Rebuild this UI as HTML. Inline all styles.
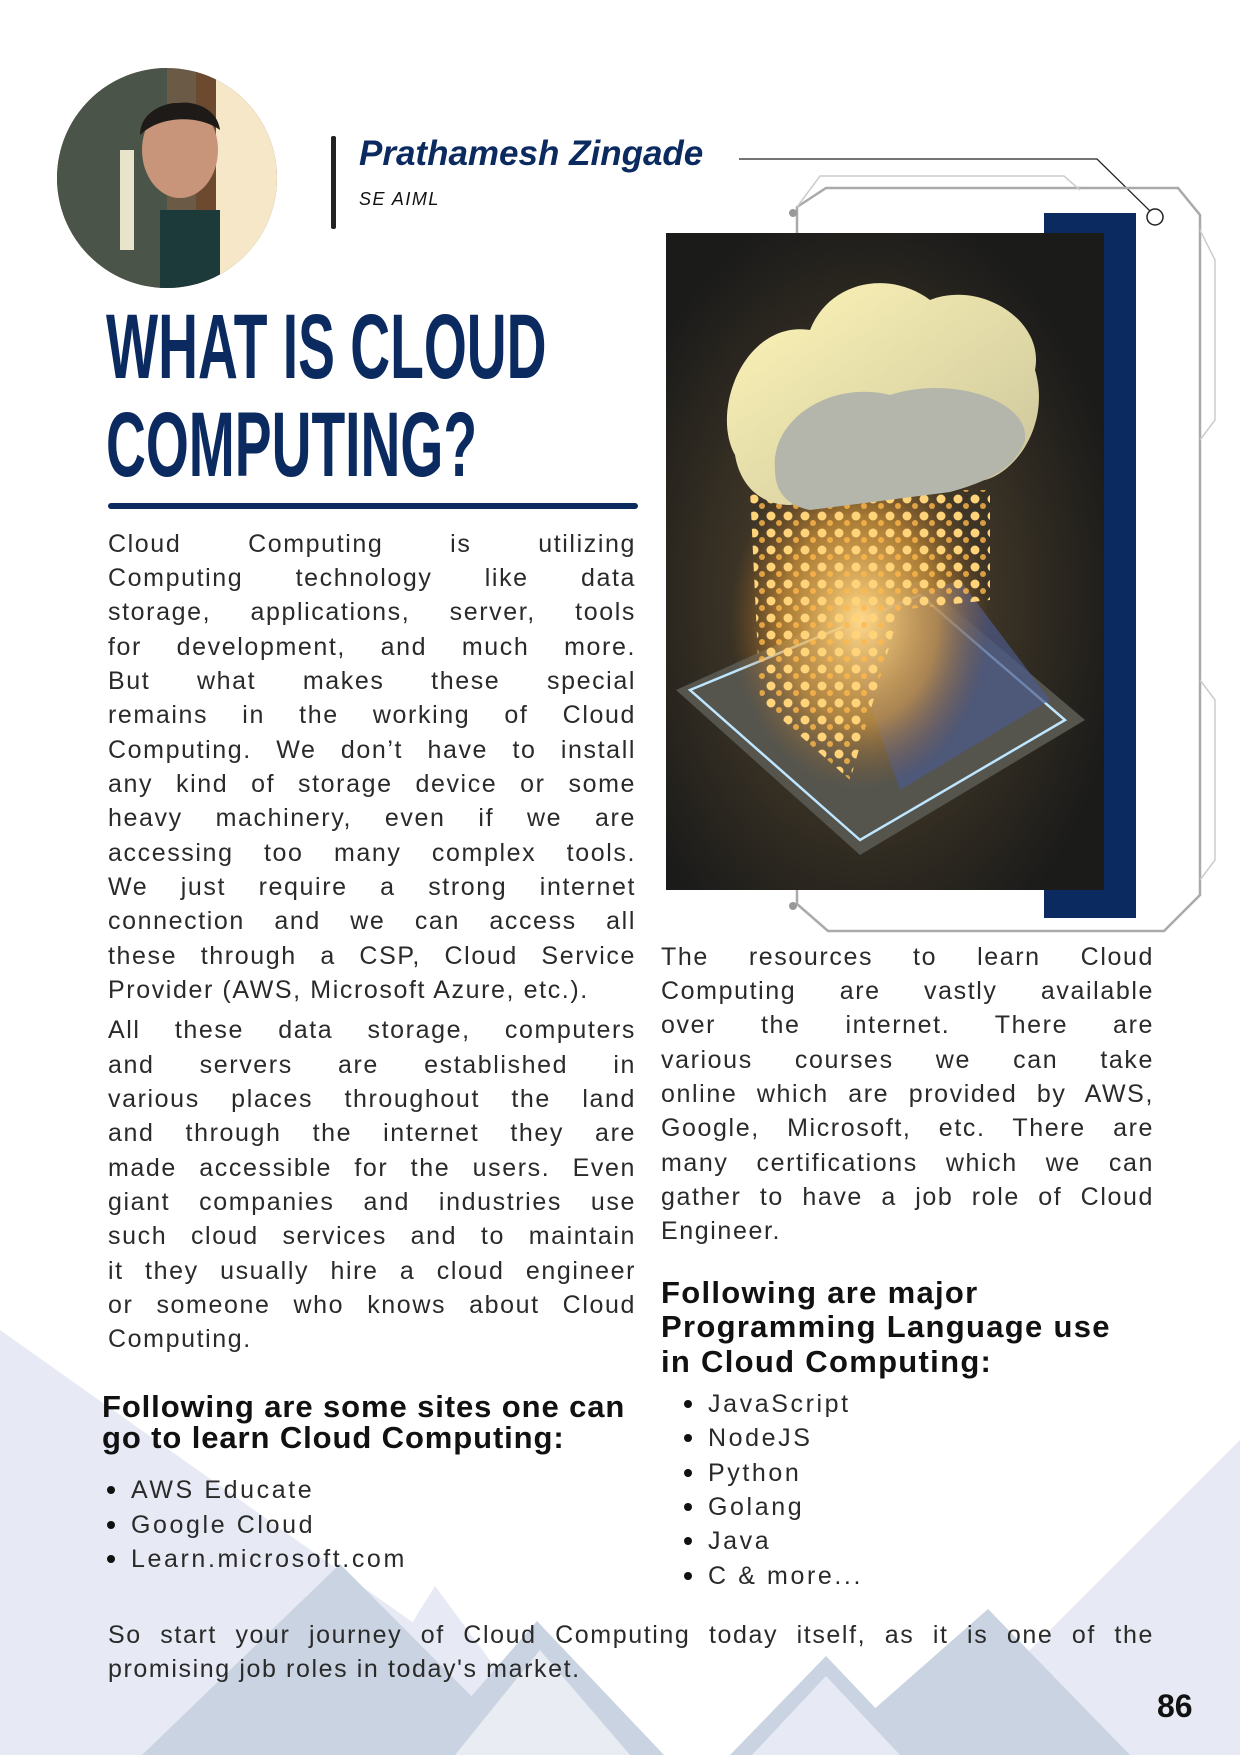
<!DOCTYPE html>
<html><head><meta charset="utf-8"><style>
*{margin:0;padding:0;box-sizing:border-box}
body{width:1240px;height:1755px;position:relative;overflow:hidden;background:#fff;font-family:"Liberation Sans",sans-serif}
.a{position:absolute;white-space:nowrap}
.l{position:absolute;font-size:25px;letter-spacing:1.6px;color:#2a2a2a;height:34px;line-height:34px;text-align:justify;text-align-last:justify;white-space:nowrap}
.l.n{text-align-last:left}
.h{position:absolute;font-size:31px;font-weight:bold;color:#111;letter-spacing:1.3px;white-space:nowrap;line-height:34px}
.b{position:absolute;font-size:25px;letter-spacing:2.6px;color:#2a2a2a;white-space:nowrap;line-height:34px}
.b:before{content:"";position:absolute;left:-24px;top:13px;width:8px;height:8px;border-radius:50%;background:#111}
</style></head><body>
<svg class="a" style="left:0;top:0" width="1240" height="1755">
 <polygon points="0,1330 600,1755 0,1755" fill="#e7eaf4"/>
 <polygon points="1240,1440 1240,1755 925,1755" fill="#e7eaf4"/>
 <polygon points="435,1586 560,1755 330,1755" fill="#e7eaf4"/>
 <polygon points="340,1564 530,1755 142,1755" fill="#c9d3e1"/>
 <polygon points="537,1621 664,1755 420,1755" fill="#c9d3e1"/>
 <polygon points="540,1650 630,1755 455,1755" fill="#ffffff" opacity=".6"/>
 <polygon points="988,1609 1130,1755 822,1755" fill="#c9d3e1"/>
 <polygon points="826,1656 920,1755 730,1755" fill="#c9d3e1"/>
 <polygon points="826,1676 900,1755 752,1755" fill="#e7eaf4"/>
 <polyline points="739,159 1097,159 1150,211" fill="none" stroke="#222" stroke-width="1.3"/>
 <circle cx="1155" cy="217" r="8" fill="#fff" stroke="#222" stroke-width="1.5"/>
 <polygon points="797,207 826,188 1178,188 1200,215 1200,895 1164,931 828,931 797,904" fill="none" stroke="#aaa" stroke-width="2.5"/>
 <polyline points="797,207 820,176 1064,176 1080,190" fill="none" stroke="#ccc" stroke-width="1.5"/>
 <polyline points="1200,230 1215,260 1215,420 1200,440" fill="none" stroke="#ccc" stroke-width="1.5"/>
 <polyline points="1200,680 1215,700 1215,860 1200,880" fill="none" stroke="#ccc" stroke-width="1.5"/>
 <circle cx="793" cy="213" r="4" fill="#999"/>
 <circle cx="793" cy="906" r="4" fill="#999"/>
 <rect x="1044" y="213" width="92" height="705" fill="#0b2b60"/>
 <defs>
  <radialGradient id="g1" cx="0.45" cy="0.55" r="0.6"><stop offset="0" stop-color="#5a4a30"/><stop offset="1" stop-color="#1b1b1a"/></radialGradient>
  <radialGradient id="g2" cx="0.5" cy="0.5" r="0.5"><stop offset="0" stop-color="#ffd98a"/><stop offset="0.6" stop-color="#e7a23a" stop-opacity=".6"/><stop offset="1" stop-color="#a06020" stop-opacity="0"/></radialGradient>
  <linearGradient id="g3" x1="0" y1="0" x2="1" y2="1"><stop offset="0" stop-color="#fff6b8"/><stop offset="1" stop-color="#c9c39a"/></linearGradient>
  <pattern id="dots" width="17" height="17" patternUnits="userSpaceOnUse"><circle cx="6" cy="6" r="4.5" fill="#ffd37a"/><circle cx="14" cy="13" r="3" fill="#ffb84a" opacity=".8"/></pattern>
  <clipPath id="cp"><circle cx="167" cy="178" r="110"/></clipPath>
 </defs>
 <rect x="666" y="233" width="438" height="657" fill="url(#g1)"/>
 <polygon points="676,690 920,580 1085,720 860,855" fill="#55554e"/>
 <polygon points="690,690 920,595 1065,720 860,840" fill="none" stroke="#bfe6ff" stroke-width="2.5"/>
 <polygon points="840,620 960,580 1050,700 900,790" fill="#4c5a8a" opacity=".7"/>
 <ellipse cx="860" cy="620" rx="130" ry="170" fill="url(#g2)"/>
 <polygon points="750,490 990,490 990,600 900,610 850,780 760,700" fill="url(#dots)"/>
 <path d="M735,455 C710,410 745,320 810,330 C830,280 890,270 930,300 C980,280 1045,320 1035,370 C1050,420 1020,470 985,480 L790,505 C760,505 740,485 735,455Z" fill="url(#g3)"/>
 <path d="M775,470 C770,420 830,380 890,395 C950,375 1030,400 1025,440 C1015,470 985,482 950,492 L810,510 C785,505 775,490 775,470Z" fill="#b5b6ab"/>
 <circle cx="167" cy="178" r="110" fill="#6b5a45"/>
 <g clip-path="url(#cp)">
  <rect x="57" y="68" width="110" height="220" fill="#4a5448"/>
  <rect x="215" y="68" width="70" height="220" fill="#f6e7c8"/>
  <rect x="196" y="68" width="20" height="220" fill="#6b4a30"/>
  <rect x="120" y="150" width="14" height="100" fill="#e8e4cc"/>
  <ellipse cx="180" cy="150" rx="38" ry="48" fill="#c8957a"/>
  <path d="M140,135 C140,95 215,90 220,130 C200,115 160,115 140,135Z" fill="#1e1a18"/>
  <rect x="160" y="210" width="60" height="80" fill="#1d3a3a"/>
 </g>
</svg>
<div class="a" style="left:331px;top:136px;width:5px;height:93px;background:#222;border-radius:2px"></div>
<div class="a" style="left:359px;top:134px;font-size:35px;font-weight:bold;font-style:italic;color:#0b2b60">Prathamesh Zingade</div>
<div class="a" style="left:359px;top:189px;font-size:18px;font-style:italic;color:#111;letter-spacing:1.5px">SE AIML</div>
<div class="a" style="left:106px;top:298px;font-weight:bold;font-size:92px;line-height:98px;color:#0b2b60;transform:scaleX(0.6);transform-origin:0 0">WHAT IS CLOUD<br>COMPUTING?</div>
<div class="a" style="left:108px;top:503px;width:530px;height:6px;background:#0b2b60;border-radius:3px"></div>

<div class="l" style="left:108px;top:527px;width:528px">Cloud Computing is utilizing</div>
<div class="l" style="left:108px;top:561px;width:528px">Computing technology like data</div>
<div class="l" style="left:108px;top:595px;width:528px">storage, applications, server, tools</div>
<div class="l" style="left:108px;top:630px;width:528px">for development, and much more.</div>
<div class="l" style="left:108px;top:664px;width:528px">But what makes these special</div>
<div class="l" style="left:108px;top:698px;width:528px">remains in the working of Cloud</div>
<div class="l" style="left:108px;top:733px;width:528px">Computing. We don’t have to install</div>
<div class="l" style="left:108px;top:767px;width:528px">any kind of storage device or some</div>
<div class="l" style="left:108px;top:801px;width:528px">heavy machinery, even if we are</div>
<div class="l" style="left:108px;top:836px;width:528px">accessing too many complex tools.</div>
<div class="l" style="left:108px;top:870px;width:528px">We just require a strong internet</div>
<div class="l" style="left:108px;top:904px;width:528px">connection and we can access all</div>
<div class="l" style="left:108px;top:939px;width:528px">these through a CSP, Cloud Service</div>
<div class="l n" style="left:108px;top:973px;width:528px">Provider (AWS, Microsoft Azure, etc.).</div>
<div class="l" style="left:108px;top:1013px;width:528px">All these data storage, computers</div>
<div class="l" style="left:108px;top:1048px;width:528px">and servers are established in</div>
<div class="l" style="left:108px;top:1082px;width:528px">various places throughout the land</div>
<div class="l" style="left:108px;top:1116px;width:528px">and through the internet they are</div>
<div class="l" style="left:108px;top:1151px;width:528px">made accessible for the users. Even</div>
<div class="l" style="left:108px;top:1185px;width:528px">giant companies and industries use</div>
<div class="l" style="left:108px;top:1219px;width:528px">such cloud services and to maintain</div>
<div class="l" style="left:108px;top:1254px;width:528px">it they usually hire a cloud engineer</div>
<div class="l" style="left:108px;top:1288px;width:528px">or someone who knows about Cloud</div>
<div class="l n" style="left:108px;top:1322px;width:528px">Computing.</div>

<div class="l" style="left:661px;top:940px;width:493px">The resources to learn Cloud</div>
<div class="l" style="left:661px;top:974px;width:493px">Computing are vastly available</div>
<div class="l" style="left:661px;top:1008px;width:493px">over the internet. There are</div>
<div class="l" style="left:661px;top:1043px;width:493px">various courses we can take</div>
<div class="l" style="left:661px;top:1077px;width:493px">online which are provided by AWS,</div>
<div class="l" style="left:661px;top:1111px;width:493px">Google, Microsoft, etc. There are</div>
<div class="l" style="left:661px;top:1146px;width:493px">many certifications which we can</div>
<div class="l" style="left:661px;top:1180px;width:493px">gather to have a job role of Cloud</div>
<div class="l n" style="left:661px;top:1214px;width:493px">Engineer.</div>

<div class="h" style="left:661px;top:1276px">Following are major</div>
<div class="h" style="left:661px;top:1310px">Programming Language use</div>
<div class="h" style="left:661px;top:1345px">in Cloud Computing:</div>

<div class="b" style="left:708px;top:1387px">JavaScript</div>
<div class="b" style="left:708px;top:1421px">NodeJS</div>
<div class="b" style="left:708px;top:1456px">Python</div>
<div class="b" style="left:708px;top:1490px">Golang</div>
<div class="b" style="left:708px;top:1524px">Java</div>
<div class="b" style="left:708px;top:1559px">C &amp; more...</div>

<div class="h" style="left:102px;top:1390px;letter-spacing:0.9px">Following are some sites one can</div>
<div class="h" style="left:102px;top:1421px;letter-spacing:0.9px">go to learn Cloud Computing:</div>

<div class="b" style="left:131px;top:1473px">AWS Educate</div>
<div class="b" style="left:131px;top:1508px">Google Cloud</div>
<div class="b" style="left:131px;top:1542px">Learn.microsoft.com</div>

<div class="l" style="left:108px;top:1618px;width:1046px">So start your journey of Cloud Computing today itself, as it is one of the</div>
<div class="l n" style="left:108px;top:1652px;width:1046px">promising job roles in today's market.</div>
<div class="a" style="left:1157px;top:1688px;font-size:32px;font-weight:bold;color:#111">86</div>
</body></html>
